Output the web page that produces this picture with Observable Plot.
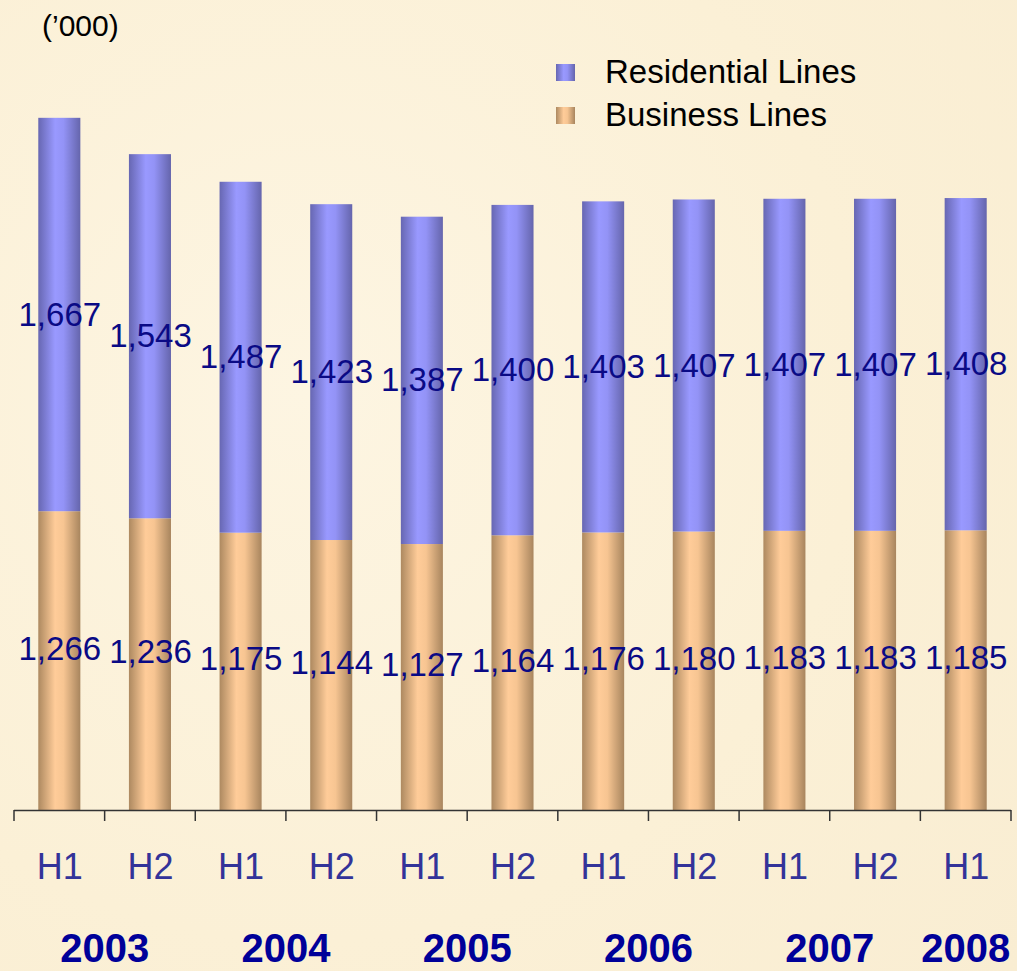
<!DOCTYPE html>
<html><head><meta charset="utf-8">
<script src="https://cdn.jsdelivr.net/npm/d3@7"></script>
<script src="https://cdn.jsdelivr.net/npm/@observablehq/plot@0.6"></script>
<style>
html,body{margin:0;padding:0;background:#fcf2da;}
#wrap{position:relative;width:1017px;height:971px;font-family:"Liberation Sans",Arial,sans-serif;background:radial-gradient(circle at 30% 40%, #fdf5e2 0%, #fbf0d6 60%, #f9edd2 100%);}
#unit{position:absolute;left:42px;top:9px;font-size:30px;color:#000;line-height:34px;}
.leg{position:absolute;left:556px;font-size:33px;color:#000;display:flex;align-items:center;height:36px;line-height:36px;}
.sw{width:19px;height:17px;margin-right:30px;}
#chart{position:absolute;left:0;top:0;}
</style></head><body>
<div id="wrap"><div id="chart"></div><div id="unit">(’000)</div><div id="legend"></div></div>
<script>
const periods = ["2003 H1","2003 H2","2004 H1","2004 H2","2005 H1","2005 H2","2006 H1","2006 H2","2007 H1","2007 H2","2008 H1"];
const years = ["2003","2004","2005","2006","2007","2008"];
const business = [1266,1236,1175,1144,1127,1164,1176,1180,1183,1183,1185];
const residential = [1667,1543,1487,1423,1387,1400,1403,1407,1407,1407,1408];
const seriesNames = ["Residential Lines","Business Lines"];

const rows = [
  ...business.map((v,i)=>({period:periods[i], series:"Business", value:v, fill:"url(#gBus)"})),
  ...residential.map((v,i)=>({period:periods[i], series:"Residential", value:v, fill:"url(#gRes)"}))
];
const busLabels = business.map((v,i)=>({period:periods[i], mid:v/2, text:d3.format(",")(v)}));
const resLabels = residential.map((v,i)=>({period:periods[i], mid:business[i]+v/2, text:d3.format(",")(v)}));

function defs() {
  const d = d3.create("svg:defs");
  const mk = (id, stops) => {
    const g = d.append("linearGradient").attr("id", id).attr("x1","0").attr("x2","1").attr("y1","0").attr("y2","0");
    stops.forEach(([o,c]) => g.append("stop").attr("offset", o).attr("stop-color", c));
  };
  mk("gRes", [["0%","#6767b2"],["40%","#9999ff"],["60%","#9393f6"],["100%","#6565ac"]]);
  mk("gBus", [["0%","#ad8960"],["40%","#ffcc99"],["60%","#f7c592"],["100%","#a8855e"]]);
  return d.node();
}

function bandInfo(x) {
  const step = x.step ? x.step() : (x(periods[1]) - x(periods[0]));
  const bw = x.bandwidth ? x.bandwidth() : step * 0.464;
  return {step, bw};
}

function boundaryTicks(index, scales, values, dims) {
  const x = scales.x;
  const {step, bw} = bandInfo(x);
  const y0 = dims.height - dims.marginBottom;
  const g = d3.create("svg:g").attr("stroke", "#333").attr("stroke-width", 1.5);
  const xs = periods.map(p => x(p) - (step - bw) / 2);
  xs.push(x(periods[periods.length-1]) + bw + (step - bw) / 2);
  xs.forEach(v => g.append("line").attr("x1", v).attr("x2", v).attr("y1", y0).attr("y2", y0 + 11));
  return g.node();
}

function yearLabels(index, scales, values, dims) {
  const x = scales.x;
  const {bw} = bandInfo(x);
  const y0 = dims.height - dims.marginBottom;
  const g = d3.create("svg:g")
    .attr("font-family", "Liberation Sans, Arial, sans-serif")
    .attr("font-size", 40).attr("font-weight", "bold").attr("fill", "#000099")
    .attr("text-anchor", "middle");
  years.forEach(yr => {
    const cats = periods.filter(p => p.startsWith(yr));
    const cx = d3.mean(cats, c => x(c) + bw / 2);
    g.append("text").attr("x", cx).attr("y", y0 + 152).text(yr);
  });
  return g.node();
}

const plot = Plot.plot({
  width: 1017,
  height: 971,
  marginLeft: 14,
  marginRight: 6,
  marginTop: 102,
  marginBottom: 161,
  style: {background: "transparent", fontFamily: "Liberation Sans, Arial, sans-serif", overflow: "visible"},
  x: {type: "band", domain: periods, paddingInner: 0.536, paddingOuter: 0.268, align: 0.5, round: false, axis: null},
  y: {domain: [0, 3000], axis: null},
  color: {type: "identity"},
  marks: [
    defs,
    Plot.barY(rows, Plot.stackY({x: "period", y: "value", z: "series", fill: "fill"})),
    Plot.ruleY([0], {stroke: "#333", strokeWidth: 1.5}),
    boundaryTicks,
    Plot.axisX({tickSize: 0, tickPadding: 43, fontSize: 36, fill: "#333399", tickFormat: d => d.split(" ")[1], label: null}),
    yearLabels,
    Plot.text(busLabels, {x: "period", y: "mid", text: "text", dy: -12, fontSize: 33, fill: "#0a0a85"}),
    Plot.text(resLabels, {x: "period", y: "mid", text: "text", fontSize: 33, fill: "#0a0a85"})
  ]
});
document.getElementById("chart").appendChild(plot);

const legend = document.getElementById("legend");
const swatches = ["linear-gradient(to right,#6767b2,#9999ff 40%,#9393f6 60%,#6565ac)", "linear-gradient(to right,#ad8960,#ffcc99 40%,#f7c592 60%,#a8855e)"];
const tops = [54, 97];
seriesNames.forEach((name, i) => {
  const el = document.createElement("div");
  el.className = "leg";
  el.style.top = tops[i] + "px";
  const sw = document.createElement("div");
  sw.className = "sw";
  sw.style.background = swatches[i];
  el.appendChild(sw);
  el.appendChild(document.createTextNode(name));
  legend.appendChild(el);
});
</script>
</body></html>
